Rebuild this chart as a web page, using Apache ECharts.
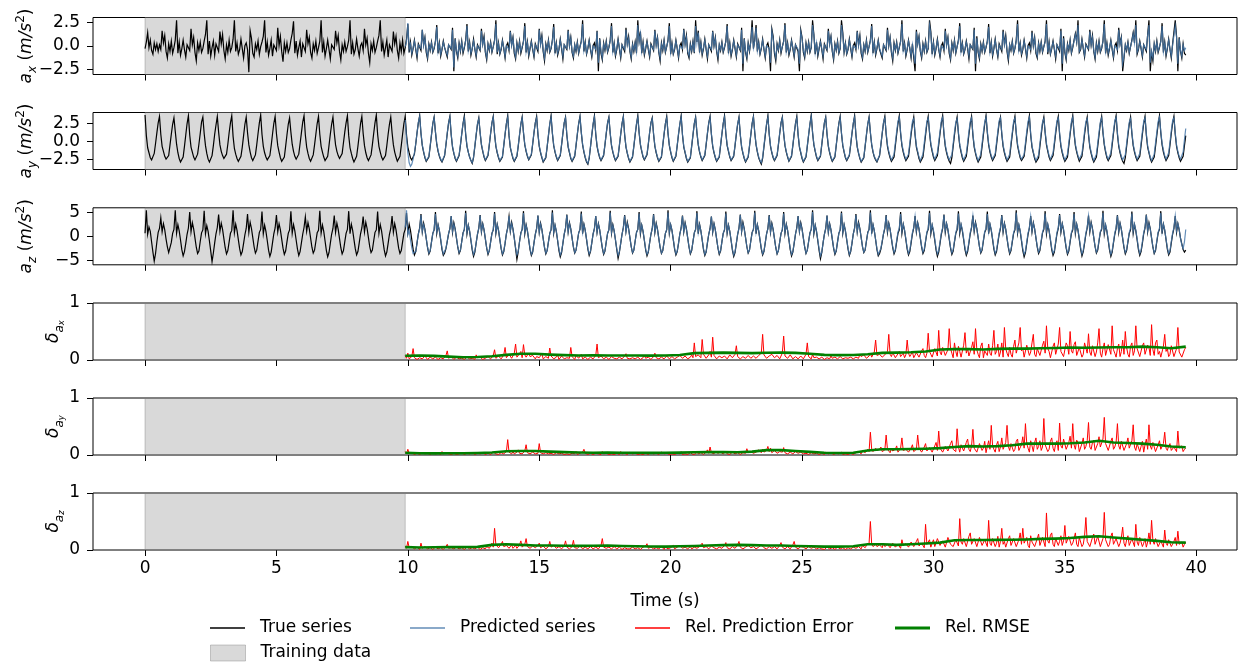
<!DOCTYPE html>
<html>
<head>
<meta charset="utf-8">
<script src="https://cdn.jsdelivr.net/npm/echarts@6/dist/echarts.min.js"></script>
<style>
  html, body { margin: 0; padding: 0; background: #fff; }
  #chart { width: 1238px; height: 662px; }
</style>
</head>
<body>
<div id="chart"></div>
<script>
// ---- sampling grid -------------------------------------------------------
const sampleStep = 0.05;        // s, accelerometer samples
const predStart = 9.9;          // s, first predicted sample
const errStep = 0.05;           // s, relative error samples
const rmseStart = 9.9;
const rmseStep = 0.55;          // s, one stride step
const trainingSpan = [0, 9.9];

// ---- tick labels ---------------------------------------------------------
const timeTicks = [0, 5, 10, 15, 20, 25, 30, 35, 40];
const axTicks = [-2.5, 0, 2.5];
const ayTicks = [-2.5, 0, 2.5];
const azTicks = [-5, 0, 5];
const deltaTicks = [0, 1];

// ---- true series, one row per gait step ----------------------------------
const trueAx = [
  [-0.3,0.4,1.4,-0.2,0.6,-0.5,-0.9,0.3,-0.4,0.2,-0.6],
  [0.1,-0.4,1.6,0.3,1.1,-0.6,-1.3,0.2,-0.6,0.5,-0.8],
  [-0.2,0.6,2.7,-0.8,0.4,-1.0,-0.3,0.6,-0.4,-1.2,0.1],
  [0.2,-0.5,1.8,0.1,0.9,-0.7,-1.6,0.3,-0.5,0.4,-0.7],
  [-0.3,0.5,1.2,2.7,-0.9,0.5,-1.1,-0.2,0.5,-1.0,0.2],
  [0.1,-0.6,1.5,0.2,1.2,-0.5,-1.4,0.1,-0.7,0.6,-0.6],
  [-0.2,0.7,2.7,-0.6,0.3,-0.9,-0.4,0.7,-0.3,-1.3,0.0],
  [0.3,-0.4,-2.8,1.6,0.8,-0.8,-1.2,0.2,-0.4,0.5,-0.9],
  [-0.1,0.4,1.0,2.7,-0.7,0.4,-1.0,-0.3,0.6,-1.1,0.1],
  [0.2,-0.5,1.9,0.0,1.0,-0.6,-1.7,0.3,-0.6,0.3,-0.7],
  [-0.3,0.6,1.3,2.6,-0.8,0.5,-1.0,-0.2,0.5,-1.2,0.2],
  [0.1,-0.6,1.7,0.2,0.9,-0.7,-1.3,0.2,-0.5,0.5,-0.8],
  [-0.2,0.5,2.7,-0.7,0.4,-1.1,-0.3,0.6,-0.4,-1.4,0.1],
  [0.2,-0.4,1.6,0.3,1.1,-0.6,-1.5,0.1,-0.6,0.4,-0.6],
  [-0.1,0.6,2.7,-0.9,0.3,-0.9,-0.4,0.7,-0.3,-1.1,0.0],
  [0.3,-0.5,1.8,0.1,0.8,-0.8,-1.8,0.2,-0.5,0.5,-0.7],
  [-0.2,0.5,1.1,2.7,-0.6,0.4,-1.0,-0.2,0.6,-1.2,0.1],
  [0.1,-0.6,1.5,0.2,1.0,-0.5,-1.3,0.3,-0.6,0.6,-0.8],
  [-0.2,0.7,2.3,-0.7,0.4,-1.0,-0.3,0.6,-0.4,-1.3,0.2],
  [0.2,-0.5,1.7,0.1,0.9,-0.7,-1.4,0.2,-0.5,0.4,-0.7],
  [-0.3,0.5,2.2,-0.8,0.3,-1.1,-0.4,0.5,-0.2,-0.4,-1.2,0.1],
  [0.1,-0.4,1.9,-2.7,0.8,-0.6,-1.3,0.3,-0.6,0.5,-0.8],
  [-0.2,0.6,2.3,-0.6,0.4,-1.0,-0.3,0.7,-0.4,-1.2,0.1],
  [0.2,-0.5,1.8,0.2,1.0,-0.7,-1.5,0.2,-0.5,0.4,-0.7],
  [-0.1,0.6,2.7,-0.9,0.3,-0.9,-0.4,0.6,-0.3,-1.3,0.0],
  [0.3,-0.5,1.6,0.1,0.9,-0.8,-1.4,0.3,-0.6,0.5,-0.8],
  [-0.2,0.5,2.4,-0.7,0.4,-1.1,-0.3,0.5,-0.4,-1.2,0.2],
  [0.1,-0.6,1.8,0.2,1.1,-0.6,-1.6,0.2,-0.5,0.6,-0.7],
  [-0.3,0.6,2.3,-0.8,0.3,-1.0,-0.4,0.7,-0.3,-1.4,0.1],
  [0.2,-0.4,1.7,0.0,0.9,-0.7,-1.3,0.1,-0.6,0.4,-0.8],
  [-0.1,0.5,2.7,-0.6,0.4,-0.9,-0.3,0.6,-0.4,-1.2,0.0],
  [0.3,-0.5,1.6,-2.7,0.8,-0.8,-1.5,0.3,-0.5,0.5,-0.7],
  [-0.2,0.6,2.4,-0.7,0.3,-1.1,-0.4,0.7,-0.3,-1.3,0.1],
  [0.1,-0.6,1.9,0.2,1.0,-0.6,-1.4,0.2,-0.6,0.4,-0.8],
  [2.7,0.5,1.5,-0.8,0.4,-1.0,-0.3,0.5,-0.4,-1.2,0.2],
  [0.2,-0.5,1.7,0.1,0.9,-0.7,-1.6,0.3,-0.5,0.6,-0.7],
  [-0.1,0.6,2.4,-0.9,0.3,-0.9,-0.4,0.6,-0.3,-1.3,0.0],
  [0.3,-0.4,1.8,0.2,1.1,-0.8,-1.3,0.2,-0.6,0.5,-0.8],
  [2.7,0.4,1.6,-0.7,0.4,-1.0,-0.3,0.7,-0.4,-1.4,0.1],
  [0.1,-0.6,1.6,0.0,0.9,-0.6,-1.5,0.1,-0.5,0.4,-0.7],
  [-0.2,0.5,2.3,-0.8,0.3,-1.1,-0.4,0.6,-0.3,-1.2,0.2],
  [0.2,-0.5,1.9,-2.7,0.8,-0.7,-1.4,0.3,-0.6,0.5,2.7],
  [-0.3,0.6,2.2,-0.6,0.4,-0.9,-0.3,0.7,-0.4,-1.3,0.0],
  [0.3,-0.4,-2.7,1.8,1.0,-0.8,-1.6,0.2,-0.5,0.6,-0.8],
  [-0.1,0.5,2.4,-0.7,0.3,-1.0,-0.4,0.6,-0.3,-1.2,0.1],
  [0.1,-0.6,-2.7,1.7,0.9,-0.7,-1.3,0.3,-0.6,0.4,-0.7],
  [-0.2,2.7,1.2,-0.9,0.4,-1.1,-0.3,0.5,-0.4,-1.4,0.2],
  [0.2,-0.5,1.8,0.2,1.0,-0.6,-1.5,0.2,-0.5,0.5,-0.8],
  [-0.3,2.7,1.4,-0.7,0.3,-0.9,-0.4,0.7,-0.3,-1.2,0.0],
  [0.3,-0.4,1.6,0.1,1.1,-0.8,-1.4,0.1,-0.6,0.6,-0.7],
  [-0.1,0.6,2.3,-0.8,0.4,-1.0,-0.3,0.6,-0.4,-0.5,-1.3,0.1],
  [0.1,-0.5,1.9,0.0,0.9,-0.7,-1.6,0.3,-0.5,0.4,-0.8],
  [-0.2,0.5,2.7,-0.6,0.3,-1.1,-0.4,0.6,-0.3,-1.3,0.2],
  [0.2,-2.7,1.7,0.2,1.0,-0.6,-1.3,0.2,-0.6,0.5,-0.7],
  [-0.3,2.7,1.5,-0.9,0.4,-1.0,-0.3,0.7,-0.4,-1.2,0.0],
  [0.3,-0.5,1.8,0.1,0.9,-0.8,-1.5,0.3,-0.5,0.6,-0.8],
  [-0.1,0.6,2.4,-0.7,0.3,-0.9,-0.4,0.5,-0.3,-1.4,0.1],
  [0.1,-0.4,1.9,-2.7,1.0,-0.7,-1.4,0.2,-0.6,0.4,-0.7],
  [-0.2,0.5,2.3,-0.8,0.4,-1.1,-0.3,0.7,-0.4,-1.2,0.2],
  [0.2,-0.6,1.7,0.2,1.1,-0.6,-1.6,0.1,-0.5,0.5,-0.8],
  [-0.3,0.6,2.7,-0.6,0.3,-1.0,-0.4,0.6,-0.3,-1.3,0.0],
  [0.3,-0.5,1.6,0.0,0.9,-0.8,-1.3,0.3,-0.6,0.4,-0.7],
  [-0.1,0.5,2.7,-0.9,0.4,-0.9,-0.3,0.5,-0.4,-1.4,0.1],
  [0.1,-0.6,1.8,-2.7,1.0,-0.7,-1.5,0.2,-0.5,0.6,-0.8],
  [-0.2,0.6,1.3,0.4,2.7,-0.7,-0.4,0.7,-0.3,-1.2,0.2],
  [0.2,-0.4,1.7,0.1,1.1,-0.6,-1.4,0.3,-0.6,0.5,-0.7],
  [-0.3,0.5,2.7,-0.8,0.3,-1.0,-0.3,0.6,-0.4,-1.3,0.0],
  [0.3,-0.5,1.9,0.2,0.9,-2.7,-1.3,0.1,-0.5,0.4,-0.8],
  [-0.1,0.6,1.4,0.3,2.7,-0.9,-0.4,0.5,-0.3,-1.2,0.1],
  [0.1,-0.6,1.2,2.7,-2.7,-0.7,-1.6,0.2,-0.6,0.5,-0.7],
  [-0.2,0.5,2.4,-0.7,0.4,-1.1,-0.3,0.7,-0.4,-1.3,0.2],
  [0.2,2.7,1.0,-2.7,0.9,-0.6,-1.3,0.2,-0.8,-1.0]
].flat();

const trueAy = [
  [3.7,0.8,-0.9,-1.6,-2.3,-2.6,-2.5,-1.7,-0.3,1.2,2.6],
  [3.5,1.0,-0.7,-1.4,-2.1,-2.5,-2.7,-2.0,-0.5,1.0,2.4],
  [3.3,1.4,-0.4,-1.6,-2.4,-2.9,-3.0,-2.2,-0.7,0.9,2.5],
  [3.6,0.9,-0.8,-1.5,-2.2,-2.6,-2.6,-1.8,-0.4,1.1,2.7],
  [3.4,1.1,-0.6,-1.7,-2.5,-2.9,-2.8,-2.0,-0.6,1.0,2.3],
  [3.5,1.3,-0.5,-1.4,-2.0,-2.4,-2.5,-1.8,-0.4,1.2,2.6],
  [3.6,0.7,-1.0,-1.8,-2.4,-2.8,-2.9,-2.1,-0.8,0.8,2.4],
  [3.4,1.2,-0.5,-1.5,-2.3,-2.7,-2.6,-1.9,-0.5,1.1,2.6],
  [3.7,1.0,-0.7,-1.6,-2.2,-2.6,-2.8,-2.0,-0.6,1.0,2.5],
  [3.5,1.1,-0.6,-1.5,-2.3,-2.8,-3.0,-2.2,-0.7,0.9,2.4],
  [3.3,1.3,-0.4,-1.4,-2.1,-2.5,-2.6,-1.8,-0.3,1.2,2.7],
  [3.6,0.9,-0.8,-1.7,-2.4,-2.8,-2.7,-1.9,-0.5,1.0,2.5],
  [3.5,1.0,-0.7,-1.5,-2.2,-2.7,-2.9,-2.1,-0.6,1.0,2.4],
  [3.4,1.2,-0.5,-1.4,-2.0,-2.4,-2.5,-1.7,-0.2,1.3,2.6],
  [3.6,0.8,-0.9,-1.7,-2.4,-2.9,-2.9,-2.1,-0.7,0.9,2.5],
  [3.5,1.1,-0.6,-1.6,-2.3,-2.7,-2.7,-1.9,-0.5,1.1,2.6],
  [3.7,1.0,-0.7,-1.5,-2.2,-2.6,-2.8,-2.0,-0.6,1.0,2.4],
  [3.4,1.2,-0.5,-1.5,-2.2,-2.8,-2.9,-2.1,-0.6,1.0,2.5],
  [3.5,0.9,-0.8,-1.6,-2.3,-2.6,-2.6,-1.8,-0.4,1.2,2.6],
  [3.6,1.1,-0.6,-1.5,-2.3,-2.8,-3.0,-2.2,-0.7,0.9,2.5],
  [3.4,1.3,-0.4,-1.4,-2.1,-2.6,-2.9,-2.8,-2.0,-0.5,1.1,2.6],
  [3.5,0.9,-0.8,-1.7,-2.4,-2.8,-2.8,-2.0,-0.6,1.0,2.5],
  [3.6,1.0,-0.7,-1.5,-2.2,-2.7,-3.1,-2.3,-0.7,0.9,2.4],
  [3.3,1.2,-0.5,-1.4,-2.2,-2.7,-2.8,-2.0,-0.5,1.1,2.6],
  [3.5,1.0,-0.7,-1.6,-2.3,-2.8,-3.0,-2.2,-0.6,1.0,2.5],
  [3.6,0.8,-0.9,-1.7,-2.4,-2.8,-2.9,-2.1,-0.7,0.9,2.4],
  [3.4,1.2,-0.5,-1.4,-2.1,-2.6,-2.7,-1.9,-0.4,1.2,2.6],
  [3.5,1.0,-0.7,-1.6,-2.3,-2.9,-3.1,-2.3,-0.8,0.8,2.4],
  [3.6,1.1,-0.6,-1.5,-2.2,-2.7,-2.8,-2.0,-0.5,1.1,2.6],
  [3.4,0.9,-0.8,-1.6,-2.4,-2.8,-2.9,-2.1,-0.6,1.0,2.5],
  [3.5,1.2,-0.5,-1.5,-2.3,-2.9,-3.2,-2.4,-0.8,0.9,2.4],
  [3.6,1.0,-0.7,-1.6,-2.3,-2.7,-2.8,-2.0,-0.5,1.1,2.6],
  [3.4,1.1,-0.6,-1.5,-2.2,-2.7,-2.9,-2.1,-0.6,1.0,2.5],
  [3.5,0.9,-0.8,-1.7,-2.4,-2.9,-3.0,-2.2,-0.7,0.9,2.4],
  [3.6,1.2,-0.5,-1.4,-2.2,-2.6,-2.7,-1.9,-0.4,1.2,2.6],
  [3.3,1.0,-0.7,-1.6,-2.3,-2.8,-3.0,-2.2,-0.6,1.0,2.5],
  [3.5,1.1,-0.6,-1.5,-2.3,-2.8,-2.9,-2.1,-0.6,1.0,2.4],
  [3.6,0.9,-0.8,-1.6,-2.4,-2.9,-3.1,-2.3,-0.7,0.9,2.5],
  [3.4,1.2,-0.5,-1.5,-2.2,-2.7,-2.8,-2.0,-0.5,1.1,2.6],
  [3.5,1.0,-0.7,-1.6,-2.3,-2.8,-3.0,-2.2,-0.6,1.0,2.5],
  [3.6,1.1,-0.6,-1.4,-2.2,-2.7,-2.9,-2.1,-0.6,1.0,2.4],
  [3.4,0.9,-0.8,-1.7,-2.4,-2.9,-3.0,-2.2,-0.7,0.9,2.5],
  [3.5,1.2,-0.5,-1.5,-2.3,-2.8,-3.2,-2.4,-0.8,0.8,2.4],
  [3.6,1.0,-0.7,-1.6,-2.3,-2.7,-2.8,-2.0,-0.5,1.1,2.6],
  [3.4,1.1,-0.6,-1.5,-2.2,-2.8,-2.9,-2.1,-0.6,1.0,2.5],
  [3.5,0.9,-0.8,-1.6,-2.4,-2.9,-3.0,-2.2,-0.7,0.9,2.4],
  [3.7,1.2,-0.5,-1.4,-2.2,-2.7,-2.9,-2.1,-0.5,1.1,2.6],
  [3.4,1.0,-0.7,-1.6,-2.3,-2.8,-3.0,-2.2,-0.6,1.0,2.5],
  [3.5,1.1,-0.6,-1.5,-2.3,-2.7,-2.8,-2.0,-0.5,1.1,2.5],
  [3.6,0.9,-0.8,-1.7,-2.4,-2.9,-3.1,-2.3,-0.7,0.9,2.4],
  [3.4,1.2,-0.5,-1.5,-2.2,-2.6,-2.9,-2.8,-2.0,-0.5,1.1,2.6],
  [3.5,1.0,-0.7,-1.6,-2.3,-2.8,-3.0,-2.2,-0.6,1.0,2.5],
  [3.6,1.1,-0.6,-1.5,-2.2,-2.7,-2.9,-2.1,-0.6,1.0,2.4],
  [3.4,0.9,-0.8,-1.6,-2.4,-2.9,-3.0,-2.2,-0.7,0.9,2.5],
  [3.5,1.2,-0.5,-1.4,-2.2,-2.7,-2.8,-2.0,-0.5,1.1,2.6],
  [3.6,1.0,-0.7,-1.6,-2.3,-2.8,-3.1,-2.3,-0.7,0.9,2.4],
  [3.4,1.1,-0.6,-1.5,-2.3,-2.8,-2.9,-2.1,-0.6,1.0,2.5],
  [3.5,0.9,-0.8,-1.7,-2.4,-2.9,-3.0,-2.2,-0.7,0.9,2.4],
  [3.6,1.2,-0.5,-1.5,-2.2,-2.7,-2.8,-2.0,-0.5,1.1,2.6],
  [3.4,1.0,-0.7,-1.6,-2.3,-2.8,-3.0,-2.2,-0.6,1.0,2.5],
  [3.5,1.1,-0.6,-1.5,-2.3,-2.7,-2.9,-2.1,-0.6,1.0,2.4],
  [3.6,0.9,-0.8,-1.6,-2.4,-2.9,-3.1,-2.3,-0.7,0.9,2.5],
  [3.4,1.2,-0.5,-1.4,-2.2,-2.7,-2.8,-2.0,-0.5,1.1,2.6],
  [3.5,1.0,-0.7,-1.6,-2.3,-2.8,-3.0,-2.2,-0.6,1.0,2.5],
  [3.6,1.1,-0.6,-1.5,-2.2,-2.8,-2.9,-2.1,-0.6,1.0,2.4],
  [3.4,0.9,-0.8,-1.7,-2.4,-2.9,-3.0,-2.2,-0.7,0.9,2.5],
  [3.5,1.2,-0.5,-1.5,-2.3,-2.7,-2.8,-2.0,-0.5,1.1,2.6],
  [3.6,1.0,-0.7,-1.6,-2.3,-2.8,-3.1,-2.3,-0.7,0.9,2.4],
  [3.4,1.1,-0.6,-1.5,-2.2,-2.7,-2.9,-2.1,-0.6,1.0,2.5],
  [3.5,0.9,-0.8,-1.6,-2.4,-2.9,-3.0,-2.2,-0.7,0.9,2.4],
  [3.6,1.2,-0.5,-1.5,-2.2,-2.7,-2.8,-2.0,-0.5,1.1,2.6],
  [3.5,1.0,-0.7,-1.6,-2.3,-2.8,-2.9,-2.1,-0.6,0.8]
].flat();

const trueAz = [
  [0.6,5.4,0.4,1.9,1.0,-1.2,-3.3,-5.2,-3.6,-1.2,0.8],
  [1.6,3.8,0.9,2.6,1.3,-0.6,-2.2,-3.4,-3.0,-1.3,0.6],
  [1.4,5.4,0.6,2.4,1.1,-0.8,-2.8,-4.1,-3.2,-1.5,0.4],
  [1.7,5.0,0.9,2.8,1.5,-0.4,-2.3,-3.6,-3.1,-1.1,0.7],
  [1.3,5.3,0.5,2.2,1.0,-1.0,-3.1,-5.3,-3.5,-1.4,0.5],
  [1.8,4.5,1.0,2.7,1.4,-0.5,-2.4,-3.7,-3.0,-1.2,0.6],
  [1.2,5.4,0.7,2.5,1.2,-0.7,-2.6,-3.9,-3.2,-1.5,0.3],
  [1.6,4.6,0.8,2.9,1.6,-0.3,-2.2,-3.5,-2.9,-1.0,0.8],
  [1.4,5.1,0.5,2.3,1.0,-0.9,-2.9,-4.2,-3.3,-1.4,0.5],
  [1.7,4.4,0.9,2.6,1.3,-0.6,-2.5,-3.8,-3.1,-1.2,0.6],
  [1.3,5.2,0.6,2.4,1.1,-0.8,-2.7,-4.0,-3.2,-1.4,0.4],
  [1.8,4.0,1.0,2.8,1.5,-0.4,-2.3,-3.5,-2.9,-1.1,0.7],
  [1.2,5.3,0.6,2.3,1.0,-1.0,-3.0,-4.3,-3.4,-1.5,0.4],
  [1.6,4.3,0.8,2.7,1.4,-0.5,-2.4,-3.7,-3.0,-1.2,0.6],
  [1.4,5.2,0.5,2.5,1.2,-0.7,-2.6,-3.9,-3.2,-1.4,0.5],
  [1.7,4.1,0.9,2.9,1.6,-0.3,-2.2,-3.4,-2.9,-1.0,0.8],
  [1.3,5.1,0.6,2.4,1.1,-0.9,-2.8,-4.1,-3.3,-1.5,0.4],
  [1.6,4.2,0.8,2.6,1.3,-0.6,-2.5,-3.6,-3.0,-1.2,0.6],
  [1.4,4.8,0.7,2.5,1.2,-0.7,-2.7,-3.9,-3.2,-1.4,0.5],
  [1.7,4.6,0.9,2.7,1.4,-0.5,-2.4,-3.7,-3.1,-1.2,0.6],
  [1.3,5.0,0.6,2.4,1.1,-0.8,-2.8,-4.0,-3.5,-2.6,-1.1,0.5],
  [1.6,4.2,0.8,2.8,1.5,-0.4,-2.3,-3.6,-3.0,-1.1,0.7],
  [1.4,5.3,0.5,2.3,1.0,-0.9,-2.9,-4.2,-3.3,-1.4,0.4],
  [1.7,4.4,0.9,2.6,1.3,-0.6,-2.5,-3.8,-3.0,-1.2,0.6],
  [1.3,5.0,0.6,2.5,1.2,-0.7,-2.6,-3.9,-3.2,-1.5,0.5],
  [1.8,4.1,1.0,2.9,1.5,-0.4,-2.6,-4.8,-3.2,-1.1,0.7],
  [1.4,5.2,0.5,2.4,1.1,-0.8,-2.8,-4.0,-3.3,-1.4,0.4],
  [1.6,4.3,0.8,2.7,1.4,-0.5,-2.4,-3.7,-3.0,-1.2,0.6],
  [1.3,5.4,0.6,2.3,1.0,-1.0,-3.0,-4.3,-3.4,-1.5,0.4],
  [1.7,4.5,0.9,2.8,1.5,-0.4,-2.3,-3.5,-2.9,-1.1,0.7],
  [1.4,5.1,0.5,2.5,1.2,-0.7,-2.7,-4.0,-3.2,-1.4,0.5],
  [1.6,4.2,0.8,2.6,1.3,-0.6,-2.5,-3.8,-3.1,-1.2,0.6],
  [1.3,5.3,0.6,2.4,1.1,-0.8,-2.8,-4.6,-3.3,-1.5,0.4],
  [1.8,4.4,1.0,2.9,1.6,-0.3,-2.2,-3.5,-2.9,-1.0,0.8],
  [1.4,5.0,0.5,2.3,1.0,-0.9,-2.9,-4.1,-3.3,-1.4,0.4],
  [1.6,4.6,0.8,2.7,1.4,-0.5,-2.4,-3.6,-3.0,-1.2,0.6],
  [1.3,5.4,0.6,2.4,1.2,-0.7,-2.7,-3.9,-3.2,-1.5,0.5],
  [1.7,4.3,0.9,2.8,1.5,-0.4,-2.3,-3.7,-3.0,-1.1,0.7],
  [1.4,5.2,0.5,2.5,1.1,-0.8,-2.8,-4.0,-3.3,-1.4,0.4],
  [1.6,4.1,0.8,2.6,1.3,-0.6,-2.5,-3.8,-3.1,-1.2,0.6],
  [1.3,5.1,0.6,2.3,1.0,-0.9,-2.9,-4.2,-3.4,-1.5,0.4],
  [1.7,4.5,0.9,2.9,1.6,-0.3,-2.2,-3.5,-2.9,-1.0,0.8],
  [1.4,5.3,0.5,2.4,1.1,-0.8,-2.7,-3.9,-3.2,-1.4,0.5],
  [1.6,4.4,0.8,2.7,1.4,-0.5,-2.4,-3.7,-3.0,-1.2,0.6],
  [1.3,5.0,0.6,2.5,1.2,-0.7,-2.8,-4.1,-3.3,-1.5,0.4],
  [1.8,4.2,1.0,2.8,1.5,-0.4,-2.3,-3.6,-2.9,-1.1,0.7],
  [1.4,5.4,0.5,2.3,1.0,-1.0,-3.0,-4.7,-3.4,-1.4,0.4],
  [1.6,4.3,0.8,2.6,1.3,-0.6,-2.5,-3.8,-3.1,-1.2,0.6],
  [1.3,5.1,0.6,2.4,1.1,-0.8,-2.7,-4.0,-3.2,-1.5,0.5],
  [1.7,4.6,0.9,2.9,1.6,-0.3,-2.2,-3.4,-2.9,-1.0,0.8],
  [1.4,5.4,0.5,2.4,1.1,-0.8,-2.8,-4.1,-3.6,-2.7,-1.2,0.5],
  [1.6,4.4,0.8,2.7,1.4,-0.5,-2.4,-3.7,-3.0,-1.2,0.6],
  [1.3,5.0,0.6,2.5,1.2,-0.7,-2.7,-3.9,-3.2,-1.4,0.5],
  [1.7,4.2,0.9,2.8,1.5,-0.4,-2.3,-3.6,-3.0,-1.1,0.7],
  [1.4,5.3,0.5,2.3,1.0,-0.9,-2.9,-4.2,-3.3,-1.5,0.4],
  [1.6,4.5,0.8,2.6,1.3,-0.6,-2.5,-3.8,-3.1,-1.2,0.6],
  [1.3,5.2,0.6,2.4,1.1,-0.8,-2.8,-4.0,-3.2,-1.4,0.5],
  [1.8,4.3,1.0,2.9,1.6,-0.3,-2.2,-3.5,-2.9,-1.0,0.8],
  [1.4,5.1,0.5,2.5,1.2,-0.7,-2.7,-3.9,-3.2,-1.4,0.4],
  [1.6,4.4,0.8,2.7,1.4,-0.5,-2.4,-3.7,-3.0,-1.2,0.6],
  [1.3,5.4,0.6,2.3,1.0,-1.0,-3.0,-4.3,-3.4,-1.5,0.4],
  [1.7,4.2,0.9,2.8,1.5,-0.4,-2.3,-3.6,-3.0,-1.1,0.7],
  [1.4,5.2,0.5,2.4,1.1,-0.8,-2.8,-4.0,-3.3,-1.4,0.5],
  [1.6,4.6,0.8,2.6,1.3,-0.6,-2.5,-3.8,-3.1,-1.2,0.6],
  [1.3,5.0,0.6,2.5,1.2,-0.7,-2.7,-4.1,-3.2,-1.5,0.4],
  [1.7,4.3,0.9,2.9,1.6,-0.3,-2.2,-3.5,-2.9,-1.0,0.8],
  [1.4,5.3,0.5,2.3,1.0,-0.9,-2.9,-4.2,-3.3,-1.4,0.4],
  [1.6,4.4,0.8,2.7,1.4,-0.5,-2.4,-3.7,-3.0,-1.2,0.6],
  [1.3,5.1,0.6,2.4,1.1,-0.8,-2.8,-4.0,-3.2,-1.5,0.5],
  [1.7,4.5,0.9,2.8,1.5,-0.4,-2.3,-3.6,-3.0,-1.1,0.7],
  [1.4,5.2,0.5,2.5,1.2,-0.7,-2.7,-3.9,-3.3,-1.4,0.4],
  [1.6,4.2,0.8,2.6,1.3,-0.4,-1.6,-2.8,-3.3,-2.9]
].flat();

// ---- predicted series (from predStart), one row per gait step ------------
const predAx = [
  [-0.1,0.4,2.4,-0.4,0.2,-0.8,-0.2,0.5,-0.3,-1.0,0.1],
  [0.1,-0.3,1.7,0.0,0.8,-0.5,-1.2,0.1,-0.4,0.3,-0.6],
  [-0.2,0.4,2.0,-0.6,0.2,-0.9,-0.3,0.4,-0.2,-0.3,-1.0,0.1],
  [0.1,-0.3,1.7,-2.3,0.7,-0.5,-1.1,0.2,-0.5,0.4,-0.6],
  [-0.1,0.5,2.1,-0.5,0.3,-0.8,-0.3,0.5,-0.3,-1.0,0.0],
  [0.2,-0.4,1.6,0.1,0.8,-0.6,-1.3,0.2,-0.4,0.3,-0.6],
  [-0.1,0.5,2.3,-0.7,0.2,-0.8,-0.3,0.5,-0.2,-1.1,0.0],
  [0.2,-0.4,1.5,0.0,0.8,-0.6,-1.2,0.2,-0.5,0.4,-0.6],
  [-0.1,0.4,2.1,-0.6,0.3,-0.9,-0.2,0.4,-0.3,-1.0,0.1],
  [0.1,-0.4,1.7,0.1,0.9,-0.5,-1.3,0.1,-0.4,0.5,-0.6],
  [-0.2,0.5,2.0,-0.6,0.2,-0.8,-0.3,0.6,-0.2,-1.1,0.1],
  [0.1,-0.3,1.6,0.0,0.8,-0.6,-1.1,0.1,-0.5,0.3,-0.7],
  [-0.1,0.4,2.3,-0.5,0.3,-0.8,-0.2,0.5,-0.3,-1.0,0.0],
  [0.2,-0.4,1.5,-1.8,0.7,-0.6,-1.3,0.2,-0.4,0.4,-0.6],
  [-0.1,0.5,2.1,-0.6,0.2,-0.9,-0.3,0.6,-0.2,-1.1,0.1],
  [0.1,-0.4,1.7,0.1,0.8,-0.5,-1.2,0.1,-0.5,0.3,-0.6],
  [2.2,0.4,1.3,-0.6,0.3,-0.8,-0.2,0.4,-0.3,-1.0,0.1],
  [0.2,-0.4,1.6,0.0,0.8,-0.6,-1.3,0.2,-0.4,0.5,-0.6],
  [-0.1,0.5,2.1,-0.7,0.2,-0.8,-0.3,0.5,-0.2,-1.1,0.0],
  [0.2,-0.3,1.7,0.1,0.9,-0.6,-1.1,0.1,-0.5,0.4,-0.7],
  [2.1,0.3,1.4,-0.5,0.3,-0.8,-0.2,0.6,-0.3,-1.1,0.1],
  [0.1,-0.4,1.5,0.0,0.8,-0.5,-1.2,0.1,-0.4,0.3,-0.6],
  [-0.1,0.4,2.1,-0.6,0.2,-0.9,-0.3,0.5,-0.2,-1.0,0.1],
  [0.2,-0.4,1.7,-1.9,0.7,-0.6,-1.2,0.2,-0.5,0.4,2.0],
  [-0.2,0.5,1.9,-0.5,0.3,-0.8,-0.2,0.6,-0.3,-1.1,0.0],
  [0.2,-0.3,-1.8,1.6,0.8,-0.6,-1.3,0.1,-0.4,0.5,-0.6],
  [-0.1,0.4,2.2,-0.6,0.2,-0.8,-0.3,0.5,-0.2,-1.0,0.1],
  [0.1,-0.4,-1.9,1.5,0.8,-0.5,-1.1,0.2,-0.5,0.3,-0.6],
  [-0.1,2.2,1.1,-0.7,0.3,-0.9,-0.2,0.4,-0.3,-1.1,0.1],
  [0.2,-0.4,1.6,0.1,0.9,-0.5,-1.3,0.1,-0.4,0.4,-0.7],
  [-0.2,2.2,1.2,-0.6,0.2,-0.8,-0.3,0.6,-0.2,-1.0,0.0],
  [0.2,-0.3,1.5,0.0,0.9,-0.6,-1.2,0.1,-0.5,0.5,-0.6],
  [-0.1,0.5,2.1,-0.6,0.3,-0.8,-0.2,0.5,-0.3,-0.4,-1.1,0.1],
  [0.1,-0.4,1.7,0.0,0.8,-0.6,-1.3,0.2,-0.4,0.3,-0.7],
  [-0.1,0.4,2.3,-0.5,0.2,-0.9,-0.3,0.5,-0.2,-1.1,0.1],
  [0.2,-1.9,1.5,0.1,0.9,-0.5,-1.1,0.1,-0.5,0.4,-0.6],
  [-0.2,2.2,1.3,-0.7,0.3,-0.8,-0.2,0.6,-0.3,-1.0,0.0],
  [0.2,-0.4,1.6,0.0,0.8,-0.6,-1.3,0.2,-0.4,0.5,-0.7],
  [-0.1,0.5,2.1,-0.6,0.2,-0.8,-0.3,0.4,-0.2,-1.1,0.1],
  [0.1,-0.3,1.7,-1.9,0.8,-0.6,-1.2,0.1,-0.5,0.3,-0.6],
  [-0.1,0.4,2.0,-0.6,0.3,-0.9,-0.2,0.6,-0.3,-1.0,0.1],
  [0.2,-0.4,1.5,0.1,0.9,-0.5,-1.3,0.1,-0.4,0.4,-0.7],
  [-0.2,0.5,2.3,-0.5,0.2,-0.8,-0.3,0.5,-0.2,-1.1,0.0],
  [0.2,-0.4,1.4,0.0,0.8,-0.6,-1.1,0.2,-0.5,0.3,-0.6],
  [-0.1,0.4,2.3,-0.7,0.3,-0.8,-0.2,0.4,-0.3,-1.1,0.1],
  [0.1,-0.4,1.6,-1.9,0.8,-0.6,-1.3,0.1,-0.4,0.5,-0.7],
  [-0.1,0.5,1.2,0.4,2.2,-0.6,-0.3,0.6,-0.2,-1.0,0.1],
  [0.2,-0.3,1.5,0.1,0.9,-0.5,-1.2,0.2,-0.5,0.4,-0.6],
  [-0.2,0.4,2.3,-0.6,0.2,-0.8,-0.2,0.5,-0.3,-1.1,0.0],
  [0.2,-0.4,1.7,0.1,0.8,-1.9,-1.1,0.1,-0.4,0.3,-0.7],
  [-0.1,0.5,1.3,0.3,2.2,-0.7,-0.3,0.4,-0.2,-1.0,0.1],
  [0.1,-0.4,1.1,2.2,-1.8,-0.6,-1.3,0.2,-0.5,0.4,-0.6],
  [-0.1,0.4,2.1,-0.6,0.3,-0.9,-0.2,0.6,-0.3,-1.1,0.1],
  [0.2,2.1,0.9,-1.9,0.8,-0.5,-1.1,0.1,-0.5,-0.2]
].flat();

const predAy = [
  [3.0,0.4,-1.6,-3.0,-3.5,-3.2,-2.5,-1.6,-0.3,1.2,2.7],
  [3.5,1.2,-0.5,-1.4,-2.2,-2.7,-2.9,-2.1,-0.6,1.0,2.5],
  [3.3,1.4,-0.3,-1.3,-2.0,-2.5,-2.8,-2.7,-1.9,-0.4,1.2,2.6],
  [3.4,1.0,-0.7,-1.6,-2.3,-2.7,-2.7,-1.9,-0.5,1.1,2.5],
  [3.3,1.1,-0.6,-1.5,-2.2,-2.7,-3.0,-2.2,-0.6,1.0,2.5],
  [3.2,1.3,-0.4,-1.3,-2.1,-2.6,-2.7,-1.9,-0.4,1.2,2.6],
  [3.4,1.1,-0.6,-1.5,-2.2,-2.7,-2.9,-2.1,-0.5,1.1,2.5],
  [3.4,0.9,-0.8,-1.6,-2.3,-2.7,-2.8,-2.0,-0.6,1.0,2.5],
  [3.3,1.3,-0.4,-1.3,-2.0,-2.5,-2.6,-1.8,-0.3,1.3,2.6],
  [3.3,1.1,-0.6,-1.5,-2.2,-2.8,-3.0,-2.2,-0.7,0.9,2.5],
  [3.4,1.2,-0.5,-1.4,-2.1,-2.6,-2.7,-1.9,-0.4,1.2,2.6],
  [3.3,1.0,-0.7,-1.5,-2.3,-2.7,-2.8,-2.0,-0.5,1.1,2.5],
  [3.4,1.3,-0.4,-1.4,-2.2,-2.8,-3.1,-2.3,-0.7,1.0,2.5],
  [3.4,1.1,-0.6,-1.5,-2.2,-2.6,-2.7,-1.9,-0.4,1.2,2.6],
  [3.3,1.2,-0.5,-1.4,-2.1,-2.6,-2.8,-2.0,-0.5,1.1,2.5],
  [3.4,1.0,-0.7,-1.6,-2.3,-2.8,-2.9,-2.1,-0.6,1.0,2.5],
  [3.4,1.3,-0.4,-1.3,-2.1,-2.5,-2.6,-1.8,-0.3,1.3,2.6],
  [3.2,1.1,-0.6,-1.5,-2.2,-2.7,-2.9,-2.1,-0.5,1.1,2.5],
  [3.3,1.2,-0.5,-1.4,-2.2,-2.7,-2.8,-2.0,-0.5,1.1,2.5],
  [3.4,1.0,-0.7,-1.5,-2.3,-2.8,-3.0,-2.2,-0.6,1.0,2.5],
  [3.3,1.3,-0.4,-1.4,-2.1,-2.6,-2.7,-1.9,-0.4,1.2,2.6],
  [3.3,1.1,-0.6,-1.5,-2.2,-2.7,-2.9,-2.1,-0.5,1.1,2.5],
  [3.4,1.2,-0.5,-1.3,-2.1,-2.6,-2.8,-2.0,-0.5,1.1,2.5],
  [3.3,1.0,-0.7,-1.6,-2.3,-2.8,-2.9,-2.1,-0.6,1.0,2.5],
  [3.4,1.3,-0.4,-1.4,-2.2,-2.7,-3.0,-2.2,-0.6,1.0,2.5],
  [3.4,1.1,-0.6,-1.5,-2.2,-2.6,-2.7,-1.9,-0.4,1.2,2.6],
  [3.3,1.2,-0.5,-1.4,-2.1,-2.7,-2.8,-2.0,-0.5,1.1,2.5],
  [3.3,1.0,-0.7,-1.5,-2.3,-2.8,-2.9,-2.1,-0.6,1.0,2.5],
  [3.5,1.3,-0.4,-1.3,-2.1,-2.6,-2.8,-2.0,-0.4,1.2,2.6],
  [3.3,1.1,-0.6,-1.5,-2.2,-2.7,-2.9,-2.1,-0.5,1.1,2.5],
  [3.3,1.2,-0.5,-1.4,-2.2,-2.6,-2.7,-1.9,-0.4,1.2,2.6],
  [3.4,1.0,-0.7,-1.6,-2.3,-2.8,-3.0,-2.2,-0.6,1.0,2.5],
  [3.3,1.3,-0.4,-1.4,-2.1,-2.5,-2.8,-2.7,-1.9,-0.4,1.2,2.7],
  [3.3,1.2,-0.5,-1.4,-2.1,-2.6,-2.7,-1.8,-0.2,1.4,2.8],
  [3.4,1.3,-0.4,-1.3,-2.0,-2.5,-2.6,-1.8,-0.2,1.4,2.8],
  [3.2,1.1,-0.6,-1.4,-2.2,-2.7,-2.7,-1.8,-0.2,1.3,2.8],
  [3.3,1.4,-0.3,-1.2,-2.0,-2.5,-2.5,-1.6,-0.1,1.4,2.9],
  [3.4,1.2,-0.5,-1.4,-2.1,-2.6,-2.8,-1.9,-0.3,1.3,2.7],
  [3.2,1.3,-0.4,-1.3,-2.1,-2.6,-2.6,-1.7,-0.2,1.4,2.8],
  [3.3,1.1,-0.6,-1.5,-2.2,-2.7,-2.7,-1.8,-0.3,1.3,2.7],
  [3.4,1.4,-0.3,-1.3,-2.0,-2.5,-2.5,-1.7,-0.1,1.4,2.9],
  [3.3,1.2,-0.5,-1.4,-2.1,-2.6,-2.7,-1.8,-0.2,1.3,2.8],
  [3.3,1.3,-0.4,-1.3,-2.1,-2.5,-2.6,-1.8,-0.2,1.4,2.8],
  [3.4,1.1,-0.6,-1.5,-2.2,-2.7,-2.8,-1.9,-0.3,1.3,2.7],
  [3.2,1.4,-0.3,-1.2,-2.0,-2.5,-2.5,-1.6,-0.1,1.5,2.9],
  [3.3,1.2,-0.5,-1.4,-2.1,-2.6,-2.7,-1.8,-0.2,1.3,2.8],
  [3.4,1.3,-0.4,-1.3,-2.0,-2.5,-2.6,-1.7,-0.2,1.4,2.8],
  [3.2,1.1,-0.6,-1.5,-2.2,-2.7,-2.7,-1.8,-0.3,1.3,2.7],
  [3.3,1.4,-0.3,-1.3,-2.1,-2.5,-2.5,-1.6,-0.1,1.4,2.9],
  [3.4,1.2,-0.5,-1.4,-2.1,-2.6,-2.8,-1.9,-0.3,1.3,2.7],
  [3.2,1.3,-0.4,-1.3,-2.0,-2.5,-2.6,-1.7,-0.2,1.4,2.8],
  [3.3,1.1,-0.6,-1.5,-2.2,-2.7,-2.7,-1.8,-0.2,1.3,2.8],
  [3.4,1.4,-0.3,-1.2,-2.0,-2.5,-2.5,-1.6,-0.1,1.5,2.9],
  [3.3,1.2,-0.5,-1.4,-2.1,-2.5,-2.4,-1.5,0.2,1.8]
].flat();

const predAz = [
  [1.8,5.4,0.3,1.2,-0.8,-2.4,-3.6,-4.0,-3.2,-1.4,0.5],
  [1.5,4.4,1.0,2.4,1.3,-0.5,-2.3,-3.5,-3.0,-1.3,0.6],
  [1.4,4.6,0.9,2.3,1.2,-0.6,-2.5,-3.7,-3.3,-2.5,-1.0,0.6],
  [1.5,4.2,1.0,2.5,1.4,-0.4,-2.2,-3.4,-2.9,-1.2,0.6],
  [1.4,4.8,0.8,2.3,1.1,-0.7,-2.6,-3.8,-3.1,-1.4,0.5],
  [1.6,4.3,1.0,2.5,1.3,-0.5,-2.4,-3.6,-3.0,-1.2,0.6],
  [1.4,4.7,0.8,2.4,1.2,-0.6,-2.5,-3.7,-3.1,-1.4,0.5],
  [1.6,4.2,1.1,2.6,1.4,-0.4,-2.4,-3.9,-3.1,-1.2,0.6],
  [1.4,4.8,0.8,2.3,1.1,-0.7,-2.6,-3.8,-3.2,-1.4,0.4],
  [1.5,4.3,0.9,2.5,1.3,-0.5,-2.3,-3.5,-3.0,-1.2,0.6],
  [1.4,4.9,0.8,2.3,1.0,-0.8,-2.7,-3.9,-3.2,-1.4,0.5],
  [1.6,4.4,1.0,2.6,1.4,-0.4,-2.2,-3.4,-2.9,-1.1,0.7],
  [1.4,4.7,0.8,2.4,1.2,-0.6,-2.5,-3.7,-3.1,-1.3,0.5],
  [1.5,4.2,0.9,2.5,1.3,-0.5,-2.4,-3.6,-3.0,-1.2,0.6],
  [1.4,4.9,0.8,2.3,1.1,-0.7,-2.6,-4.0,-3.2,-1.4,0.4],
  [1.7,4.3,1.0,2.6,1.4,-0.3,-2.2,-3.4,-2.9,-1.0,0.7],
  [1.4,4.7,0.8,2.3,1.0,-0.8,-2.7,-3.8,-3.2,-1.3,0.5],
  [1.5,4.5,0.9,2.5,1.3,-0.5,-2.3,-3.5,-3.0,-1.2,0.6],
  [1.4,4.9,0.8,2.4,1.2,-0.6,-2.5,-3.7,-3.1,-1.4,0.5],
  [1.6,4.2,1.0,2.6,1.4,-0.4,-2.3,-3.5,-2.9,-1.1,0.7],
  [1.4,4.8,0.8,2.4,1.1,-0.7,-2.6,-3.8,-3.2,-1.3,0.5],
  [1.5,4.1,0.9,2.5,1.3,-0.5,-2.4,-3.6,-3.0,-1.2,0.6],
  [1.4,4.7,0.8,2.3,1.0,-0.8,-2.7,-3.9,-3.2,-1.4,0.5],
  [1.6,4.4,1.0,2.6,1.4,-0.3,-2.2,-3.4,-2.9,-1.0,0.7],
  [1.4,4.9,0.8,2.4,1.1,-0.7,-2.5,-3.7,-3.1,-1.3,0.5],
  [1.5,4.3,0.9,2.5,1.3,-0.5,-2.3,-3.6,-3.0,-1.2,0.6],
  [1.4,4.7,0.8,2.4,1.2,-0.6,-2.6,-3.8,-3.2,-1.4,0.5],
  [1.6,4.2,1.0,2.6,1.4,-0.4,-2.2,-3.5,-2.9,-1.1,0.7],
  [1.4,5.0,0.8,2.3,1.0,-0.8,-2.7,-4.1,-3.3,-1.4,0.4],
  [1.5,4.3,0.9,2.5,1.3,-0.5,-2.4,-3.6,-3.0,-1.2,0.6],
  [1.4,4.8,0.8,2.4,1.1,-0.7,-2.5,-3.8,-3.1,-1.4,0.5],
  [1.6,4.4,1.0,2.6,1.4,-0.3,-2.2,-3.3,-2.8,-1.0,0.7],
  [1.4,4.9,0.8,2.4,1.1,-0.7,-2.6,-3.8,-3.4,-2.5,-1.0,0.6],
  [1.8,4.3,1.1,2.6,1.4,-0.4,-2.2,-3.4,-2.8,-0.9,0.9],
  [1.7,4.6,1.0,2.5,1.3,-0.5,-2.4,-3.6,-2.9,-1.1,0.8],
  [1.8,4.1,1.1,2.7,1.5,-0.3,-2.1,-3.3,-2.7,-0.9,0.9],
  [1.6,4.8,0.9,2.4,1.2,-0.6,-2.5,-3.7,-3.0,-1.2,0.7],
  [1.8,4.4,1.1,2.6,1.4,-0.4,-2.3,-3.5,-2.8,-1.0,0.8],
  [1.7,4.7,1.0,2.5,1.3,-0.5,-2.4,-3.6,-2.9,-1.1,0.8],
  [1.9,4.2,1.2,2.7,1.5,-0.3,-2.1,-3.3,-2.7,-0.8,1.0],
  [1.6,4.6,0.9,2.5,1.3,-0.5,-2.4,-3.6,-2.9,-1.1,0.7],
  [1.8,4.3,1.1,2.6,1.4,-0.4,-2.2,-3.4,-2.8,-1.0,0.8],
  [1.6,4.9,0.9,2.4,1.1,-0.7,-2.6,-3.8,-3.1,-1.2,0.7],
  [1.8,4.1,1.1,2.7,1.5,-0.3,-2.1,-3.3,-2.8,-0.9,0.9],
  [1.7,4.7,1.0,2.5,1.2,-0.6,-2.5,-3.6,-3.0,-1.1,0.8],
  [1.8,4.4,1.1,2.6,1.4,-0.4,-2.3,-3.5,-2.9,-1.0,0.8],
  [1.6,4.6,0.9,2.5,1.3,-0.5,-2.4,-3.7,-2.9,-1.2,0.7],
  [1.9,4.2,1.2,2.7,1.5,-0.3,-2.1,-3.3,-2.7,-0.8,1.0],
  [1.6,4.8,0.9,2.4,1.1,-0.7,-2.6,-3.8,-3.0,-1.2,0.7],
  [1.8,4.3,1.1,2.6,1.4,-0.4,-2.2,-3.4,-2.8,-1.0,0.8],
  [1.7,4.7,1.0,2.5,1.2,-0.5,-2.5,-3.6,-2.9,-1.1,0.8],
  [1.8,4.4,1.1,2.6,1.4,-0.4,-2.2,-3.5,-2.8,-0.9,0.9],
  [1.6,4.8,0.9,2.5,1.3,-0.6,-2.4,-3.6,-3.0,-1.1,0.7],
  [1.8,4.2,1.1,2.6,1.4,-0.4,-1.8,-2.6,-1.2,1.4]
].flat();

// ---- relative prediction error, one row per second (from predStart) ------
const errAx = [
  [0.08,0.03],
  [0.12,0.02,0.03,0.06,0.2,0.04,0.05,0.01,0.01,0.04,0.06,0.02,0.02,0.07,0.09,0.01,0.03,0.05,0.04,0.02],
  [0.02,0.05,0.07,0.01,0.01,0.04,0.05,0.02,0.03,0.08,0.16,0.03,0.04,0.06,0.08,0.01,0.02,0.05,0.05,0.02],
  [0.01,0.03,0.04,0.01,0.02,0.05,0.06,0.02,0.01,0.03,0.03,0.01,0.09,0.04,0.02,0.05,0.05,0.01,0.01,0.03],
  [0.03,0.06,0.07,0.02,0.02,0.08,0.18,0.03,0.04,0.07,0.1,0.02,0.03,0.09,0.22,0.04,0.06,0.1,0.12,0.03],
  [0.04,0.12,0.28,0.05,0.08,0.11,0.15,0.04,0.27,0.09,0.05,0.02,0.12,0.06,0.03,0.08,0.09,0.02,0.06,0.04],
  [0.04,0.07,0.11,0.02,0.03,0.06,0.08,0.03,0.21,0.07,0.05,0.02,0.02,0.05,0.09,0.01,0.04,0.07,0.06,0.02],
  [0.02,0.04,0.07,0.03,0.22,0.06,0.04,0.01,0.08,0.05,0.03,0.06,0.1,0.02,0.02,0.05,0.06,0.01,0.03,0.05],
  [0.05,0.02,0.02,0.08,0.28,0.04,0.04,0.07,0.09,0.02,0.03,0.05,0.06,0.01,0.02,0.06,0.08,0.03,0.04,0.02],
  [0.02,0.05,0.06,0.02,0.03,0.07,0.11,0.03,0.05,0.02,0.02,0.04,0.07,0.02,0.03,0.05,0.06,0.01,0.02,0.04],
  [0.08,0.03,0.03,0.05,0.05,0.01,0.02,0.06,0.12,0.04,0.04,0.02,0.02,0.05,0.06,0.02,0.03,0.07,0.05,0.02],
  [0.02,0.06,0.07,0.02,0.03,0.05,0.05,0.08,0.1,0.03,0.03,0.07,0.06,0.02,0.02,0.05,0.09,0.04,0.3,0.06],
  [0.05,0.09,0.12,0.04,0.36,0.1,0.08,0.03,0.04,0.09,0.15,0.05,0.4,0.08,0.06,0.02,0.03,0.07,0.1,0.04],
  [0.04,0.07,0.08,0.02,0.03,0.09,0.12,0.04,0.05,0.1,0.25,0.06,0.07,0.02,0.03,0.06,0.09,0.03,0.04,0.08],
  [0.06,0.03,0.02,0.07,0.1,0.03,0.04,0.08,0.07,0.12,0.45,0.09,0.08,0.03,0.03,0.07,0.06,0.1,0.12,0.04],
  [0.04,0.08,0.09,0.02,0.03,0.12,0.42,0.07,0.07,0.03,0.05,0.09,0.1,0.02,0.03,0.06,0.06,0.02,0.04,0.07],
  [0.08,0.02,0.03,0.1,0.3,0.06,0.05,0.02,0.1,0.04,0.02,0.05,0.06,0.02,0.03,0.05,0.05,0.01,0.02,0.04],
  [0.04,0.02,0.07,0.03,0.02,0.05,0.05,0.02,0.03,0.06,0.09,0.02,0.02,0.04,0.06,0.03,0.03,0.05,0.05,0.02],
  [0.02,0.05,0.06,0.03,0.1,0.06,0.04,0.09,0.08,0.03,0.03,0.07,0.12,0.05,0.06,0.14,0.35,0.08,0.05,0.1],
  [0.1,0.05,0.04,0.09,0.08,0.15,0.45,0.1,0.06,0.13,0.12,0.04,0.05,0.11,0.15,0.06,0.08,0.12,0.04,0.09],
  [0.35,0.12,0.06,0.1,0.14,0.04,0.05,0.13,0.1,0.05,0.07,0.16,0.2,0.08,0.04,0.12,0.47,0.15,0.1,0.05],
  [0.06,0.2,0.18,0.07,0.52,0.14,0.09,0.22,0.25,0.08,0.05,0.18,0.55,0.2,0.12,0.04,0.3,0.15,0.06,0.24],
  [0.15,0.05,0.08,0.26,0.48,0.12,0.2,0.07,0.05,0.22,0.32,0.1,0.55,0.18,0.1,0.04,0.24,0.3,0.04,0.16],
  [0.18,0.08,0.28,0.12,0.08,0.25,0.52,0.1,0.15,0.28,0.06,0.14,0.3,0.05,0.57,0.2,0.12,0.06,0.22,0.1],
  [0.05,0.24,0.35,0.12,0.1,0.3,0.57,0.16,0.2,0.05,0.07,0.26,0.28,0.08,0.14,0.3,0.45,0.1,0.06,0.2],
  [0.22,0.08,0.1,0.26,0.33,0.12,0.6,0.2,0.15,0.04,0.05,0.24,0.3,0.1,0.12,0.28,0.57,0.15,0.18,0.06],
  [0.07,0.3,0.25,0.1,0.5,0.16,0.12,0.27,0.32,0.08,0.06,0.22,0.2,0.05,0.1,0.3,0.28,0.12,0.46,0.14],
  [0.08,0.25,0.22,0.06,0.14,0.3,0.55,0.12,0.05,0.2,0.3,0.08,0.1,0.27,0.25,0.1,0.6,0.18,0.12,0.05],
  [0.2,0.28,0.06,0.15,0.35,0.1,0.5,0.22,0.1,0.05,0.24,0.3,0.08,0.16,0.6,0.2,0.18,0.06,0.05,0.25],
  [0.3,0.1,0.12,0.26,0.22,0.08,0.62,0.18,0.08,0.3,0.35,0.1,0.15,0.05,0.06,0.24,0.45,0.15,0.2,0.06],
  [0.1,0.25,0.28,0.06,0.05,0.2,0.57,0.14,0.15,0.05,0.08,0.18,0.22]
].flat();

const errAy = [
  [0.06,0.02],
  [0.1,0.03,0.02,0.04,0.04,0.01,0.01,0.03,0.03,0.01,0.02,0.04,0.05,0.02,0.01,0.03,0.03,0.01,0.02,0.04],
  [0.04,0.02,0.01,0.03,0.03,0.01,0.06,0.02,0.02,0.04,0.01,0.02,0.04,0.01,0.02,0.03,0.03,0.01,0.01,0.02],
  [0.02,0.04,0.05,0.01,0.01,0.03,0.03,0.02,0.02,0.04,0.04,0.01,0.01,0.03,0.06,0.02,0.02,0.04,0.03,0.01],
  [0.01,0.03,0.04,0.01,0.02,0.05,0.07,0.02,0.03,0.01,0.02,0.04,0.05,0.02,0.03,0.06,0.27,0.05,0.04,0.02],
  [0.06,0.02,0.03,0.05,0.09,0.03,0.05,0.02,0.02,0.07,0.18,0.04,0.06,0.02,0.03,0.05,0.08,0.02,0.04,0.03],
  [0.2,0.04,0.05,0.02,0.03,0.04,0.07,0.02,0.02,0.03,0.05,0.01,0.03,0.04,0.06,0.02,0.02,0.03,0.04,0.01],
  [0.03,0.02,0.05,0.01,0.02,0.03,0.04,0.02,0.06,0.01,0.02,0.03,0.03,0.05,0.1,0.03,0.04,0.01,0.02,0.03],
  [0.05,0.01,0.02,0.03,0.04,0.02,0.03,0.01,0.06,0.02,0.02,0.03,0.04,0.01,0.03,0.02,0.05,0.01,0.02,0.03],
  [0.03,0.01,0.06,0.02,0.02,0.03,0.04,0.01,0.03,0.05,0.08,0.02,0.02,0.03,0.05,0.01,0.03,0.02,0.04,0.01],
  [0.02,0.03,0.05,0.01,0.03,0.04,0.06,0.02,0.02,0.03,0.04,0.01,0.03,0.05,0.07,0.02,0.02,0.03,0.04,0.01],
  [0.03,0.02,0.05,0.01,0.02,0.03,0.04,0.02,0.06,0.01,0.03,0.02,0.05,0.01,0.02,0.04,0.04,0.01,0.03,0.02],
  [0.06,0.02,0.02,0.04,0.05,0.01,0.03,0.05,0.09,0.03,0.14,0.04,0.04,0.02,0.06,0.03,0.03,0.01,0.05,0.02],
  [0.02,0.04,0.06,0.02,0.04,0.01,0.03,0.05,0.07,0.02,0.02,0.04,0.05,0.01,0.03,0.04,0.06,0.03,0.11,0.04],
  [0.04,0.06,0.08,0.03,0.03,0.05,0.05,0.09,0.07,0.04,0.1,0.05,0.06,0.08,0.15,0.06,0.12,0.04,0.05,0.08],
  [0.08,0.03,0.04,0.06,0.07,0.05,0.13,0.04,0.05,0.02,0.03,0.05,0.06,0.02,0.04,0.06,0.09,0.03,0.03,0.05],
  [0.05,0.02,0.02,0.03,0.04,0.01,0.03,0.04,0.06,0.02,0.02,0.03,0.04,0.01,0.02,0.03,0.03,0.01,0.05,0.02],
  [0.02,0.03,0.04,0.01,0.01,0.02,0.03,0.01,0.02,0.04,0.05,0.01,0.01,0.02,0.03,0.01,0.02,0.03,0.04,0.01],
  [0.02,0.04,0.03,0.06,0.05,0.02,0.08,0.05,0.04,0.07,0.1,0.06,0.4,0.1,0.06,0.03,0.12,0.08,0.05,0.1],
  [0.14,0.06,0.03,0.09,0.35,0.1,0.08,0.04,0.12,0.07,0.04,0.1,0.16,0.05,0.06,0.12,0.3,0.08,0.05,0.1],
  [0.13,0.05,0.07,0.12,0.18,0.06,0.04,0.1,0.35,0.12,0.1,0.05,0.06,0.14,0.2,0.07,0.08,0.13,0.15,0.05],
  [0.05,0.16,0.22,0.08,0.42,0.12,0.1,0.05,0.06,0.15,0.18,0.07,0.08,0.2,0.25,0.1,0.12,0.06,0.46,0.14],
  [0.05,0.18,0.2,0.07,0.1,0.22,0.28,0.1,0.06,0.16,0.45,0.12,0.15,0.05,0.08,0.2,0.22,0.08,0.12,0.24],
  [0.04,0.15,0.25,0.1,0.52,0.16,0.1,0.05,0.18,0.24,0.06,0.14,0.3,0.1,0.12,0.22,0.52,0.15,0.08,0.2],
  [0.2,0.06,0.1,0.24,0.28,0.08,0.05,0.18,0.32,0.12,0.55,0.2,0.12,0.05,0.25,0.16,0.06,0.22,0.3,0.1],
  [0.15,0.25,0.08,0.14,0.64,0.18,0.2,0.06,0.1,0.24,0.3,0.12,0.06,0.2,0.25,0.08,0.56,0.16,0.12,0.28],
  [0.28,0.1,0.08,0.22,0.33,0.12,0.55,0.18,0.1,0.26,0.22,0.06,0.05,0.2,0.3,0.1,0.15,0.25,0.57,0.14],
  [0.1,0.22,0.26,0.08,0.06,0.2,0.32,0.14,0.12,0.28,0.66,0.2,0.2,0.08,0.08,0.24,0.3,0.1,0.14,0.22],
  [0.55,0.16,0.1,0.24,0.25,0.08,0.06,0.2,0.3,0.12,0.12,0.25,0.53,0.14,0.08,0.2,0.22,0.06,0.15,0.24],
  [0.05,0.18,0.28,0.1,0.53,0.16,0.1,0.22,0.2,0.06,0.06,0.18,0.25,0.1,0.12,0.2,0.4,0.12,0.08,0.16],
  [0.2,0.08,0.05,0.14,0.15,0.06,0.42,0.12,0.1,0.16,0.06,0.1,0.12]
].flat();

const errAz = [
  [0.07,0.03],
  [0.15,0.04,0.03,0.06,0.06,0.02,0.02,0.05,0.04,0.01,0.12,0.03,0.03,0.06,0.05,0.02,0.02,0.04,0.04,0.01],
  [0.03,0.05,0.06,0.02,0.02,0.04,0.05,0.01,0.03,0.06,0.1,0.03,0.02,0.04,0.04,0.02,0.03,0.05,0.06,0.02],
  [0.02,0.04,0.04,0.01,0.03,0.05,0.05,0.02,0.02,0.04,0.07,0.02,0.03,0.05,0.04,0.01,0.02,0.04,0.05,0.02],
  [0.06,0.03,0.03,0.07,0.12,0.05,0.38,0.09,0.08,0.04,0.05,0.1,0.15,0.06,0.04,0.08,0.1,0.03,0.06,0.09],
  [0.03,0.06,0.08,0.03,0.05,0.09,0.16,0.05,0.04,0.1,0.2,0.06,0.06,0.03,0.03,0.07,0.09,0.04,0.05,0.08],
  [0.12,0.04,0.04,0.07,0.07,0.02,0.03,0.06,0.15,0.05,0.05,0.08,0.08,0.03,0.03,0.06,0.06,0.02,0.04,0.07],
  [0.16,0.05,0.05,0.02,0.03,0.06,0.17,0.04,0.06,0.03,0.04,0.07,0.08,0.02,0.03,0.05,0.05,0.02,0.04,0.06],
  [0.07,0.02,0.03,0.05,0.05,0.02,0.04,0.08,0.2,0.05,0.06,0.03,0.03,0.05,0.05,0.02,0.04,0.06,0.06,0.02],
  [0.03,0.05,0.05,0.01,0.02,0.04,0.06,0.02,0.04,0.02,0.03,0.05,0.07,0.02,0.02,0.04,0.05,0.01,0.03,0.05],
  [0.04,0.07,0.11,0.03,0.03,0.05,0.05,0.02,0.02,0.04,0.06,0.02,0.04,0.06,0.03,0.01,0.05,0.03,0.02,0.04],
  [0.04,0.06,0.08,0.02,0.03,0.05,0.05,0.08,0.1,0.03,0.03,0.05,0.06,0.02,0.04,0.06,0.02,0.04,0.05,0.02],
  [0.03,0.05,0.06,0.09,0.12,0.04,0.04,0.06,0.07,0.02,0.03,0.07,0.1,0.04,0.05,0.02,0.03,0.05,0.06,0.03],
  [0.04,0.08,0.13,0.04,0.05,0.02,0.03,0.06,0.08,0.03,0.04,0.09,0.15,0.05,0.06,0.02,0.03,0.05,0.05,0.08],
  [0.1,0.04,0.04,0.06,0.07,0.02,0.03,0.05,0.06,0.09,0.12,0.04,0.05,0.02,0.03,0.06,0.08,0.03,0.04,0.06],
  [0.06,0.02,0.03,0.08,0.13,0.05,0.05,0.02,0.04,0.06,0.07,0.02,0.03,0.09,0.15,0.05,0.05,0.02,0.04,0.06],
  [0.03,0.05,0.06,0.02,0.04,0.06,0.08,0.03,0.03,0.05,0.05,0.02,0.02,0.04,0.06,0.02,0.04,0.01,0.03,0.05],
  [0.05,0.02,0.02,0.04,0.04,0.01,0.03,0.05,0.07,0.02,0.02,0.04,0.05,0.01,0.03,0.04,0.04,0.02,0.02,0.05],
  [0.06,0.03,0.03,0.06,0.05,0.02,0.08,0.05,0.04,0.08,0.07,0.12,0.5,0.1,0.06,0.04,0.1,0.06,0.04,0.09],
  [0.08,0.04,0.12,0.06,0.05,0.1,0.1,0.04,0.06,0.12,0.15,0.05,0.04,0.1,0.09,0.03,0.18,0.08,0.06,0.11],
  [0.12,0.05,0.05,0.14,0.16,0.06,0.08,0.15,0.2,0.07,0.06,0.12,0.1,0.04,0.45,0.1,0.12,0.18,0.05,0.12],
  [0.18,0.06,0.08,0.2,0.22,0.08,0.1,0.16,0.15,0.05,0.05,0.22,0.25,0.1,0.12,0.06,0.08,0.18,0.2,0.07],
  [0.55,0.14,0.1,0.2,0.22,0.06,0.06,0.24,0.3,0.1,0.12,0.2,0.18,0.06,0.08,0.22,0.25,0.08,0.1,0.18],
  [0.15,0.06,0.52,0.12,0.08,0.2,0.2,0.06,0.12,0.24,0.05,0.15,0.38,0.1,0.15,0.05,0.08,0.2,0.25,0.08],
  [0.1,0.2,0.22,0.06,0.06,0.18,0.3,0.1,0.38,0.12,0.12,0.22,0.08,0.04,0.25,0.14,0.15,0.06,0.05,0.2],
  [0.28,0.08,0.1,0.22,0.2,0.06,0.65,0.16,0.12,0.26,0.3,0.1,0.06,0.2,0.22,0.08,0.15,0.25,0.08,0.16],
  [0.43,0.12,0.1,0.24,0.25,0.08,0.12,0.2,0.3,0.1,0.06,0.22,0.2,0.06,0.1,0.25,0.57,0.15,0.15,0.06],
  [0.08,0.22,0.28,0.1,0.12,0.24,0.22,0.06,0.05,0.2,0.66,0.18,0.18,0.06,0.1,0.24,0.3,0.1,0.08,0.2],
  [0.2,0.06,0.12,0.22,0.4,0.12,0.06,0.18,0.25,0.08,0.1,0.2,0.18,0.06,0.45,0.14,0.08,0.22,0.22,0.06],
  [0.12,0.2,0.05,0.14,0.3,0.1,0.52,0.16,0.1,0.2,0.2,0.06,0.06,0.16,0.15,0.05,0.35,0.12,0.08,0.18],
  [0.18,0.06,0.06,0.15,0.22,0.08,0.33,0.1,0.1,0.14,0.05,0.1,0.14]
].flat();

// ---- relative RMSE, one value per stride step (from rmseStart) -----------
const rmseAx = [0.075,0.078,0.072,0.06,0.048,0.052,0.065,0.09,0.11,0.11,
  0.095,0.085,0.08,0.082,0.078,0.08,0.079,0.077,0.08,0.088,
  0.12,0.125,0.13,0.125,0.12,0.128,0.13,0.125,0.11,0.09,
  0.085,0.088,0.1,0.125,0.13,0.135,0.15,0.185,0.19,0.19,
  0.185,0.195,0.2,0.2,0.205,0.21,0.22,0.215,0.22,0.225,
  0.225,0.235,0.225,0.205,0.235];
const rmseAy = [0.04,0.03,0.028,0.03,0.03,0.035,0.045,0.065,0.07,0.07,
  0.06,0.05,0.045,0.04,0.042,0.04,0.04,0.038,0.04,0.042,
  0.048,0.05,0.05,0.048,0.06,0.085,0.085,0.07,0.055,0.04,
  0.035,0.04,0.08,0.1,0.1,0.105,0.11,0.12,0.14,0.155,
  0.15,0.155,0.17,0.2,0.2,0.2,0.205,0.22,0.25,0.22,
  0.21,0.2,0.18,0.15,0.135];
const rmseAz = [0.05,0.045,0.048,0.05,0.05,0.055,0.09,0.1,0.09,0.08,
  0.078,0.075,0.072,0.075,0.078,0.07,0.066,0.062,0.06,0.065,
  0.07,0.078,0.085,0.09,0.085,0.08,0.078,0.07,0.065,0.06,
  0.06,0.065,0.1,0.1,0.09,0.1,0.115,0.13,0.17,0.175,
  0.175,0.178,0.18,0.185,0.195,0.2,0.21,0.23,0.24,0.22,
  0.2,0.18,0.16,0.135,0.13];

// ---- styling --------------------------------------------------------------
const FONT = "'DejaVu Sans', sans-serif";
const FS = 17;
const C_TRUE = '#000000';
const C_PRED = 'rgba(70,120,170,0.85)';
const C_ERR = '#ff0000';
const C_RMSE = '#008000';
const C_TRAIN = 'rgba(128,128,128,0.3)';
const C_TRAIN_EDGE = 'rgba(128,128,128,0.42)';

const X_MIN = -1.98, X_MAX = 41.55;
const GRID_LEFT = 93, GRID_RIGHT = 1, GRID_H = 57;
const gridTops = [17.5, 112.5, 207.8, 303, 398, 493];

const round2 = v => Math.round(v * 100) / 100;
const toPairs = (arr, t0, dt) => arr.map((v, i) => [round2(t0 + i * dt), v]);
const minusFmt = d => v => (v < 0 ? '\u2212' : '') + Math.abs(v).toFixed(d);

const panels = [
  { lines: [['True series', trueAx, 0, sampleStep, C_TRUE, 1.2], ['Predicted series', predAx, predStart, sampleStep, C_PRED, 1.2]],
    min: -3.05, max: 3.0, ticks: axTicks, fmt: minusFmt(1) },
  { lines: [['True series', trueAy, 0, sampleStep, C_TRUE, 1.2], ['Predicted series', predAy, predStart, sampleStep, C_PRED, 1.2]],
    min: -3.95, max: 4.05, ticks: ayTicks, fmt: minusFmt(1) },
  { lines: [['True series', trueAz, 0, sampleStep, C_TRUE, 1.2], ['Predicted series', predAz, predStart, sampleStep, C_PRED, 1.2]],
    min: -5.95, max: 5.9, ticks: azTicks, fmt: minusFmt(0) },
  { lines: [['Rel. Prediction Error', errAx, predStart, errStep, C_ERR, 1], ['Rel. RMSE', rmseAx, rmseStart, rmseStep, C_RMSE, 2.6]],
    min: 0, max: 1, ticks: deltaTicks, fmt: minusFmt(0) },
  { lines: [['Rel. Prediction Error', errAy, predStart, errStep, C_ERR, 1], ['Rel. RMSE', rmseAy, rmseStart, rmseStep, C_RMSE, 2.6]],
    min: 0, max: 1, ticks: deltaTicks, fmt: minusFmt(0) },
  { lines: [['Rel. Prediction Error', errAz, predStart, errStep, C_ERR, 1], ['Rel. RMSE', rmseAz, rmseStart, rmseStep, C_RMSE, 2.6]],
    min: 0, max: 1, ticks: deltaTicks, fmt: minusFmt(0) }
];

const grid = [], xAxis = [], yAxis = [], series = [];
panels.forEach((p, k) => {
  const last = k === panels.length - 1;
  grid.push({ left: GRID_LEFT, right: GRID_RIGHT, top: gridTops[k], height: GRID_H,
              show: true, borderColor: '#000', borderWidth: 1, backgroundColor: 'transparent' });
  xAxis.push({
    type: 'value', gridIndex: k, min: X_MIN, max: X_MAX, position: 'bottom',
    axisLine: { show: false, onZero: false }, splitLine: { show: false },
    axisTick: { show: true, length: 6, customValues: timeTicks, lineStyle: { color: '#000', width: 1 } },
    axisLabel: { show: last, customValues: timeTicks, margin: 10, color: '#000', fontFamily: FONT, fontSize: FS },
    name: last ? 'Time (s)' : '', nameLocation: 'middle', nameGap: 43,
    nameTextStyle: { color: '#000', fontFamily: FONT, fontSize: FS }
  });
  yAxis.push({
    type: 'value', gridIndex: k, min: p.min, max: p.max,
    axisLine: { show: false, onZero: false }, splitLine: { show: false },
    axisTick: { show: true, length: 6, customValues: p.ticks, lineStyle: { color: '#000', width: 1 } },
    axisLabel: { customValues: p.ticks, formatter: p.fmt, margin: 13, color: '#000', fontFamily: FONT, fontSize: FS }
  });
  // shaded training window
  series.push({
    name: 'Training data', type: 'line', xAxisIndex: k, yAxisIndex: k, data: [],
    itemStyle: { color: C_TRAIN }, silent: true,
    markArea: { silent: true, itemStyle: { color: C_TRAIN, borderColor: C_TRAIN_EDGE, borderWidth: 1 },
                data: [[{ xAxis: trainingSpan[0] }, { xAxis: trainingSpan[1] }]] }
  });
  p.lines.forEach(([name, vals, t0, dt, color, w]) => {
    series.push({
      name, type: 'line', xAxisIndex: k, yAxisIndex: k,
      data: toPairs(vals, t0, dt),
      showSymbol: false, symbol: 'none', sampling: null, clip: true,
      itemStyle: { color }, lineStyle: { color, width: w, join: 'miter' }
    });
  });
});

// ---- axis titles (rotated, with sub/superscripts) ---------------------------
const rich = {
  i: { fontFamily: FONT, fontSize: FS, fontStyle: 'italic', lineHeight: 24, fill: '#000' },
  n: { fontFamily: FONT, fontSize: FS, lineHeight: 24, fill: '#000' },
  sub: { fontFamily: FONT, fontSize: 12, fontStyle: 'italic', lineHeight: 12, verticalAlign: 'bottom', fill: '#000' },
  sup: { fontFamily: FONT, fontSize: 12, lineHeight: 12, verticalAlign: 'top', fill: '#000' },
  s1: { fontFamily: FONT, fontSize: 12, fontStyle: 'italic', lineHeight: 14, verticalAlign: 'bottom', fill: '#000' },
  s2: { fontFamily: FONT, fontSize: 8.5, fontStyle: 'italic', lineHeight: 6, verticalAlign: 'bottom', fill: '#000' }
};
const titles = [
  '{i|a}{sub|x}{n| (}{i|m/s}{sup|2}{n|)}',
  '{i|a}{sub|y}{n| (}{i|m/s}{sup|2}{n|)}',
  '{i|a}{sub|z}{n| (}{i|m/s}{sup|2}{n|)}',
  '{i|\u03b4}{s1|a}{s2|x}',
  '{i|\u03b4}{s1|a}{s2|y}',
  '{i|\u03b4}{s1|a}{s2|z}'
];
const titleX = [27, 27, 27, 54, 54, 54];
const graphic = titles.map((t, k) => ({
  type: 'text', x: titleX[k], y: gridTops[k] + GRID_H / 2, rotation: Math.PI / 2,
  style: { text: t, rich, align: 'center', verticalAlign: 'middle', fontFamily: FONT, fontSize: FS, fill: '#000' }
}));

// ---- legend -----------------------------------------------------------------
const legendBase = {
  orient: 'horizontal', padding: 0, itemWidth: 35, selectedMode: false,
  textStyle: { color: '#000', fontFamily: FONT, fontSize: FS, padding: [0, 0, 0, 10] }
};
const legend = [
  Object.assign({}, legendBase, { left: 210, top: 619.5, itemHeight: 1.5,
    data: [{ name: 'True series', icon: 'rect', itemStyle: { color: C_TRUE } }] }),
  Object.assign({}, legendBase, { left: 410, top: 619.5, itemHeight: 1.5,
    data: [{ name: 'Predicted series', icon: 'rect', itemStyle: { color: C_PRED } }] }),
  Object.assign({}, legendBase, { left: 635, top: 619.5, itemHeight: 1.5,
    data: [{ name: 'Rel. Prediction Error', icon: 'rect', itemStyle: { color: C_ERR } }] }),
  Object.assign({}, legendBase, { left: 895, top: 619.5, itemHeight: 3,
    data: [{ name: 'Rel. RMSE', icon: 'rect', itemStyle: { color: C_RMSE } }] }),
  Object.assign({}, legendBase, { left: 210, top: 644.5, itemHeight: 16,
    data: [{ name: 'Training data', icon: 'rect',
             itemStyle: { color: C_TRAIN, borderColor: C_TRAIN_EDGE, borderWidth: 1 } }] })
];

const chart = echarts.init(document.getElementById('chart'), null, { renderer: 'canvas' });
chart.setOption({
  animation: false,
  backgroundColor: '#ffffff',
  grid, xAxis, yAxis, series, legend, graphic
});
</script>
</body>
</html>
